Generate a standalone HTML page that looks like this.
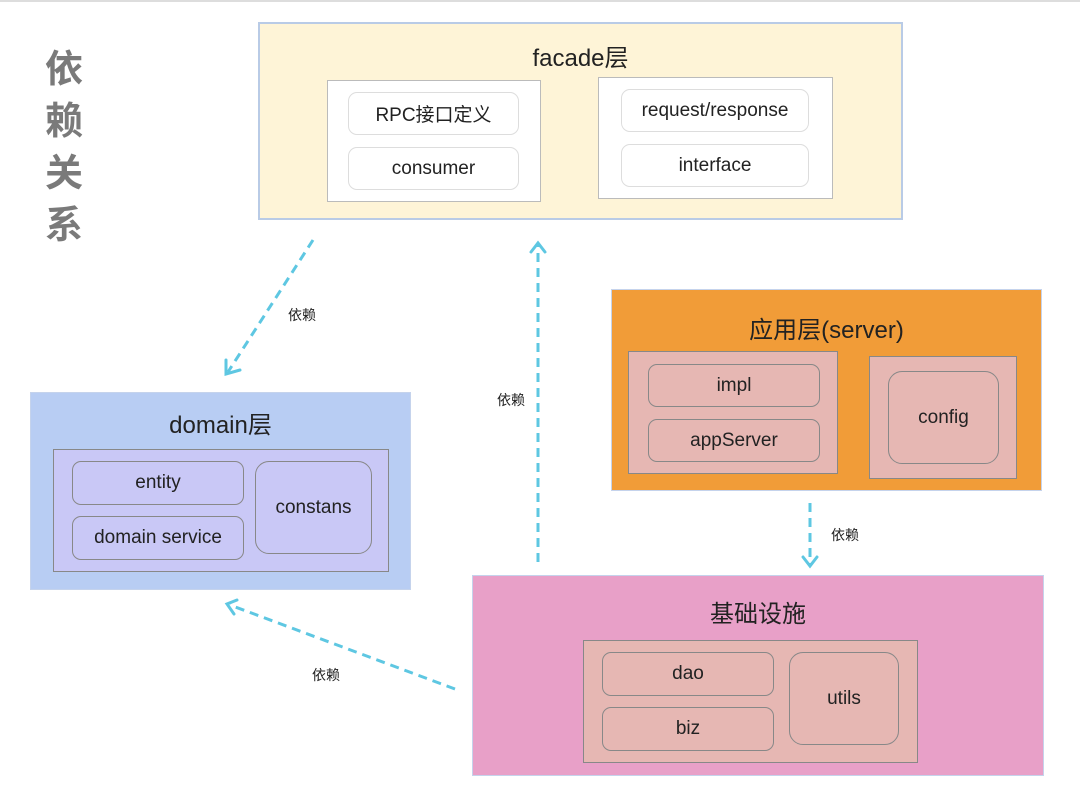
<!DOCTYPE html>
<html><head><meta charset="utf-8">
<style>
html,body{margin:0;padding:0;}
body{width:1080px;height:800px;background:#fff;position:relative;overflow:hidden;font-family:"Liberation Sans","Noto Sans CJK SC",sans-serif;color:#222;}
.a{position:absolute;box-sizing:border-box;}
.c{display:flex;align-items:center;justify-content:center;}
.t{position:absolute;left:0;right:0;text-align:center;font-size:24px;}
.item{font-size:19px;border-radius:9px;}
</style></head><body>
<div class="a" style="left:0;top:0;width:1080px;height:2px;background:#ddd"></div>
<div class="a" style="left:42px;top:44px;width:44px;font-size:38px;line-height:52px;color:#7a7a7a;text-align:center;font-weight:bold;">依<br>赖<br>关<br>系</div>

<!-- facade -->
<div class="a" style="left:258px;top:22px;width:645px;height:198px;background:#fef4d7;border:2px solid #b9cbe6;">
<div class="t" style="top:14px">facade层</div></div>
<div class="a" style="left:327px;top:80px;width:214px;height:122px;background:#fff;border:1px solid #bbb"></div>
<div class="a c item" style="left:348px;top:92px;width:171px;height:43px;background:#fff;border:1px solid #ddd">RPC接口定义</div>
<div class="a c item" style="left:348px;top:147px;width:171px;height:43px;background:#fff;border:1px solid #ddd">consumer</div>
<div class="a" style="left:598px;top:77px;width:235px;height:122px;background:#fff;border:1px solid #bbb"></div>
<div class="a c item" style="left:621px;top:89px;width:188px;height:43px;background:#fff;border:1px solid #ddd">request/response</div>
<div class="a c item" style="left:621px;top:144px;width:188px;height:43px;background:#fff;border:1px solid #ddd">interface</div>

<!-- domain -->
<div class="a" style="left:30px;top:392px;width:381px;height:198px;background:#b8cdf3;border:1px solid #c5d3ec">
<div class="t" style="top:12px">domain层</div></div>
<div class="a" style="left:53px;top:449px;width:336px;height:123px;background:#c9c8f6;border:1px solid #888"></div>
<div class="a c item" style="left:72px;top:461px;width:172px;height:44px;border:1px solid #888">entity</div>
<div class="a c item" style="left:72px;top:516px;width:172px;height:44px;border:1px solid #888">domain service</div>
<div class="a c item" style="left:255px;top:461px;width:117px;height:93px;border:1px solid #888;border-radius:14px">constans</div>

<!-- app -->
<div class="a" style="left:611px;top:289px;width:431px;height:202px;background:#f19c38;border:1px solid #c5d3ec">
<div class="t" style="top:20px">应用层(server)</div></div>
<div class="a" style="left:628px;top:351px;width:210px;height:123px;background:#e6b7b3;border:1px solid #888"></div>
<div class="a c item" style="left:648px;top:364px;width:172px;height:43px;border:1px solid #888">impl</div>
<div class="a c item" style="left:648px;top:419px;width:172px;height:43px;border:1px solid #888">appServer</div>
<div class="a" style="left:869px;top:356px;width:148px;height:123px;background:#e6b7b3;border:1px solid #888"></div>
<div class="a c item" style="left:888px;top:371px;width:111px;height:93px;border:1px solid #888;border-radius:14px">config</div>

<!-- infra -->
<div class="a" style="left:472px;top:575px;width:572px;height:201px;background:#e8a0c8;border:1px solid #c5d3ec">
<div class="t" style="top:18px">基础设施</div></div>
<div class="a" style="left:583px;top:640px;width:335px;height:123px;background:#e6b7b3;border:1px solid #888"></div>
<div class="a c item" style="left:602px;top:652px;width:172px;height:44px;border:1px solid #888">dao</div>
<div class="a c item" style="left:602px;top:707px;width:172px;height:44px;border:1px solid #888">biz</div>
<div class="a c item" style="left:789px;top:652px;width:110px;height:93px;border:1px solid #888;border-radius:14px">utils</div>

<svg class="a" style="left:0;top:0" width="1080" height="800">
<g stroke="#5ec7e2" stroke-width="3" fill="none" stroke-dasharray="9,6">
<line x1="313" y1="240" x2="228" y2="372"/>
<line x1="538" y1="562" x2="538" y2="245"/>
<line x1="810" y1="503" x2="810" y2="564"/>
<line x1="455" y1="689" x2="230" y2="605"/>
</g>
<g stroke="#5ec7e2" stroke-width="3" fill="none" stroke-linecap="round">
<polyline points="226,360 226,374 240,370"/>
<polyline points="531,252 538,243 545,252"/>
<polyline points="803,557 810,566 817,557"/>
<polyline points="237,600 227,604 234,614"/>
</g>
<g font-size="14" fill="#222" font-family="Liberation Sans, Noto Sans CJK SC, sans-serif">
<text x="288" y="320">依赖</text>
<text x="497" y="405">依赖</text>
<text x="831" y="540">依赖</text>
<text x="312" y="680">依赖</text>
</g>
</svg>
</body></html>
